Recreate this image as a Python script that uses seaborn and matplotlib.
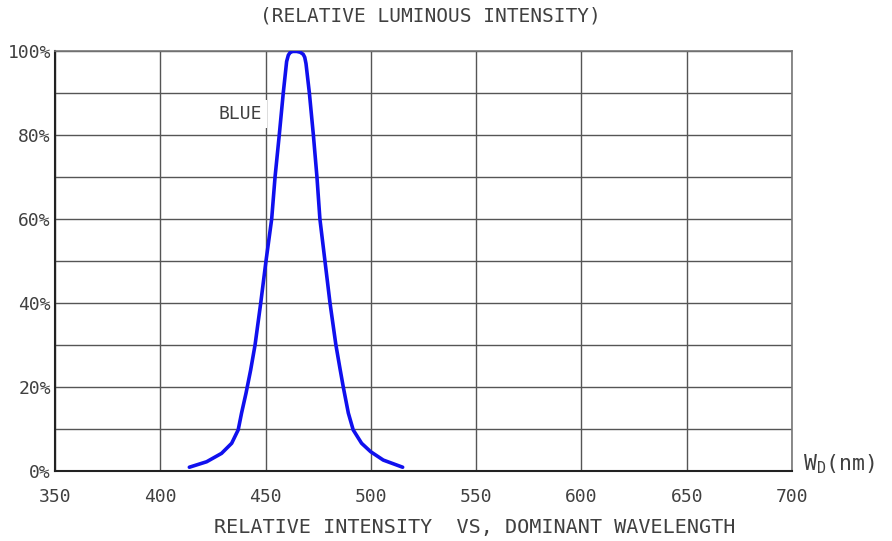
import matplotlib
matplotlib.use("Agg")
import matplotlib.pyplot as plt
import seaborn as sns
import pandas as pd
import numpy as np

wavelength = [413.8, 422.0, 429.1, 433.9, 437.0, 438.6, 440.7, 442.9, 445.0, 447.7, 450.2, 452.9, 454.5, 456.5,
              458.4, 460.0, 460.8, 461.6, 462.8, 464.8, 466.5, 467.9, 468.6, 469.2, 470.8, 472.7, 474.4, 475.8,
              478.2, 480.6, 483.4, 485.3, 486.9, 489.3, 491.6, 495.6, 499.9, 505.9, 515.1]
intensity = [0.9, 2.2, 4.2, 6.6, 9.8, 13.8, 18.5, 24, 30, 40, 50, 60, 70, 80,
             90, 97.5, 99.0, 99.6, 99.9, 99.9, 99.7, 99.2, 98.5, 97.0, 90, 80, 70, 60,
             50, 40, 30, 24.5, 20, 13.8, 9.8, 6.6, 4.6, 2.6, 0.9]
x_ticks = [350, 400, 450, 500, 550, 600, 650, 700]
y_ticks = [0, 20, 40, 60, 80, 100]
y_tick_labels = ["0%", "20%", "40%", "60%", "80%", "100%"]

sns.set_style("white")
plt.rcParams['font.family'] = ['DejaVu Sans Mono', 'DejaVu Sans']

df = pd.DataFrame({"wl": wavelength, "rel": intensity})

fig = plt.figure(figsize=(8.92, 5.41), dpi=100)
ax = fig.add_axes([55/892, 1-471/541, 737/892, 420/541])

txt_color = "#404040"
grid_color = "#555555"

ax.set_xlim(350, 700)
ax.set_ylim(0, 100)
ax.set_xticks(x_ticks)
ax.set_yticks(y_ticks)
ax.set_yticks(np.arange(0, 101, 10), minor=True)
ax.set_yticklabels(y_tick_labels)
ax.grid(True, which="both", color=grid_color, linewidth=1.0)
ax.tick_params(axis="both", which="both", length=0, labelsize=13, colors=txt_color)
ax.tick_params(axis="x", pad=12)
ax.tick_params(axis="y", pad=3)
for s in ["top", "right"]:
    ax.spines[s].set_color("#777777")
    ax.spines[s].set_linewidth(1.2)
for s in ["left", "bottom"]:
    ax.spines[s].set_color("#222222")
    ax.spines[s].set_linewidth(1.5)

sns.lineplot(data=df, x="wl", y="rel", ax=ax, color="#1010ee", linewidth=2.6, zorder=5)
ax.set_xlabel("")
ax.set_ylabel("")

ax.text(438.0, 85, "BLUE", ha="center", va="center", fontsize=13, color=txt_color,
        bbox=dict(facecolor="white", edgecolor="none", pad=3.5), zorder=4)

fig.text(430/892, 1-16/541, "(RELATIVE LUMINOUS INTENSITY)", ha="center", va="center",
         fontsize=14, color=txt_color)
fig.text(475/892, 1-527/541, "RELATIVE INTENSITY  VS, DOMINANT WAVELENGTH", ha="center", va="center",
         fontsize=14.5, color=txt_color)
fig.text(803/892, 1-464/541, r"W$_\mathregular{D}$(nm)", ha="left", va="center",
         fontsize=15.5, color=txt_color)

fig.savefig("out.png", dpi=100)
